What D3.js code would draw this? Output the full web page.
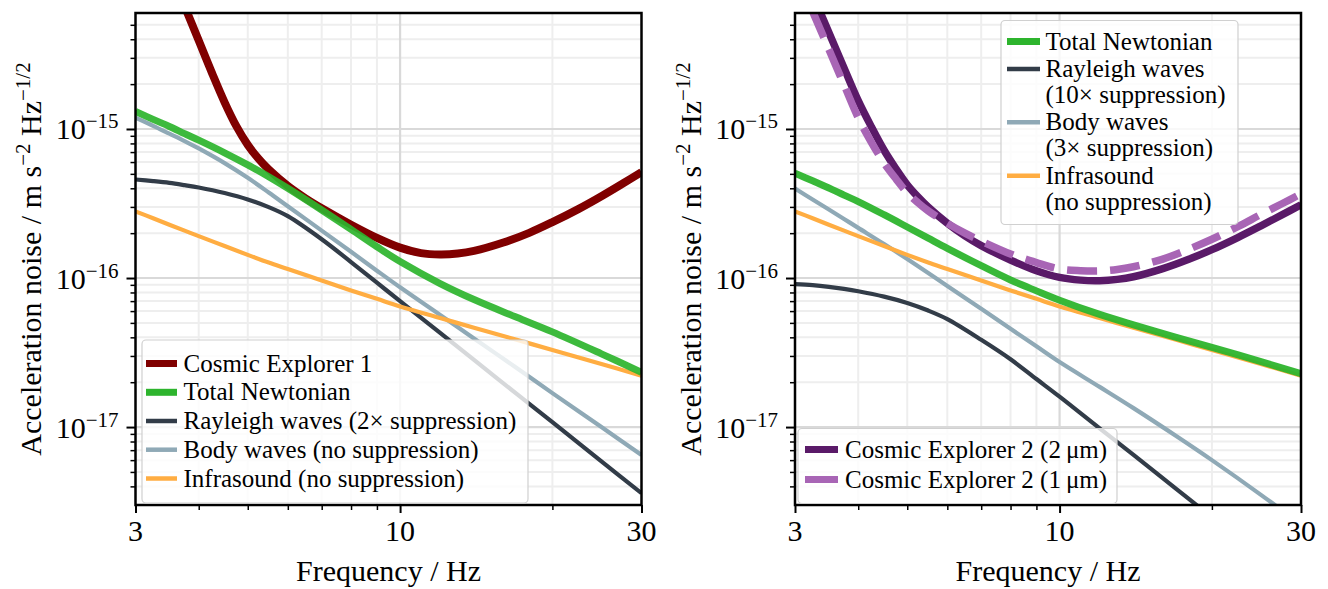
<!DOCTYPE html>
<html><head><meta charset="utf-8">
<script src="https://cdn.jsdelivr.net/npm/d3@7"></script>
<style>
body{margin:0;background:#fff}
svg{display:block}
</style>
</head><body>
<svg id="c" width="1328" height="589"></svg>
<script>
// ---------- data ----------
const freq = [3, 3.25, 3.5, 3.75, 4, 4.5, 5, 5.5, 6, 7, 8, 9, 10, 12, 14, 17, 20, 25, 30];
const freqCE = [3, 3.5, 3.75, 4, 4.25, 4.5, 4.75, 5, 5.25, 5.5, 6, 6.5, 7, 8, 9, 10, 11, 12, 13, 14, 16, 18, 20, 22.5, 25, 27.5, 30];

// left panel
const ce1 = [4.26e-14, 1.19e-14, 6.69e-15, 3.92e-15, 2.37e-15, 1.51e-15, 1.04e-15, 7.82e-16, 6.32e-16, 5.35e-16, 4.15e-16, 3.43e-16, 2.94e-16, 2.28e-16, 1.86e-16, 1.6e-16, 1.47e-16, 1.44e-16, 1.46e-16, 1.52e-16, 1.73e-16, 2.01e-16, 2.37e-16, 2.9e-16, 3.54e-16, 4.29e-16, 5.14e-16];
const totalLeft = [1.31e-15, 1.16e-15, 1.04e-15, 9.31e-16, 8.41e-16, 6.92e-16, 5.74e-16, 4.78e-16, 4.0e-16, 2.86e-16, 2.12e-16, 1.62e-16, 1.29e-16, 9.18e-17, 7.17e-17, 5.45e-17, 4.35e-17, 3.1e-17, 2.33e-17];
const rayleighLeft = [4.58e-16, 4.47e-16, 4.35e-16, 4.2e-16, 4.05e-16, 3.72e-16, 3.37e-16, 2.99e-16, 2.6e-16, 1.82e-16, 1.28e-16, 9.3e-17, 7.0e-17, 4.28e-17, 2.82e-17, 1.67e-17, 1.08e-17, 5.89e-18, 3.6e-18];
const bodyLeft = [1.19e-15, 1.05e-15, 9.3e-16, 8.3e-16, 7.4e-16, 5.9e-16, 4.7e-16, 3.75e-16, 3.03e-16, 2.08e-16, 1.5e-16, 1.12e-16, 8.66e-17, 5.65e-17, 3.93e-17, 2.49e-17, 1.69e-17, 1.0e-17, 6.5e-18];
const infrasound = [2.8e-16, 2.52e-16, 2.28e-16, 2.08e-16, 1.91e-16, 1.64e-16, 1.43e-16, 1.27e-16, 1.15e-16, 9.63e-17, 8.26e-17, 7.25e-17, 6.45e-17, 5.39e-17, 4.64e-17, 3.85e-17, 3.29e-17, 2.65e-17, 2.21e-17];

// right panel
const totalRight = [5.05e-16, 4.49e-16, 4.02e-16, 3.6e-16, 3.26e-16, 2.66e-16, 2.2e-16, 1.85e-16, 1.58e-16, 1.21e-16, 9.7e-17, 8.2e-17, 7.1e-17, 5.7e-17, 4.85e-17, 4.0e-17, 3.42e-17, 2.75e-17, 2.28e-17];
const rayleighRight = [9.1e-17, 8.95e-17, 8.72e-17, 8.45e-17, 8.15e-17, 7.5e-17, 6.8e-17, 6.05e-17, 5.3e-17, 3.85e-17, 2.85e-17, 2.1e-17, 1.6e-17, 9.8e-18, 6.5e-18, 3.85e-18, 2.48e-18, 1.36e-18, 8.3e-19];
const bodyRight = [3.98e-16, 3.36e-16, 2.88e-16, 2.49e-16, 2.17e-16, 1.69e-16, 1.34e-16, 1.08e-16, 8.85e-17, 6.21e-17, 4.56e-17, 3.48e-17, 2.73e-17, 1.86e-17, 1.34e-17, 8.71e-18, 6.0e-18, 3.51e-18, 2.22e-18];
const ce2_2um = [1.51e-14, 4.44e-15, 2.57e-15, 1.55e-15, 1.03e-15, 7.2e-16, 5.4e-16, 4.22e-16, 3.5e-16, 2.99e-16, 2.33e-16, 1.92e-16, 1.65e-16, 1.32e-16, 1.12e-16, 1.01e-16, 9.68e-17, 9.6e-17, 9.79e-17, 1.02e-16, 1.156e-16, 1.336e-16, 1.55e-16, 1.87e-16, 2.24e-16, 2.65e-16, 3.1e-16];
const ce2_1um = [1.16e-14, 3.42e-15, 1.98e-15, 1.19e-15, 8.11e-16, 5.9e-16, 4.62e-16, 3.73e-16, 3.2e-16, 2.82e-16, 2.33e-16, 2.0e-16, 1.77e-16, 1.45e-16, 1.27e-16, 1.15e-16, 1.12e-16, 1.116e-16, 1.14e-16, 1.19e-16, 1.34e-16, 1.56e-16, 1.82e-16, 2.21e-16, 2.67e-16, 3.15e-16, 3.67e-16];

// axes
const xDomain = [3, 30];
const yDomain = [3e-18, 6e-15];
const xMajorTicks = [3, 10, 30];
const xTickLabels = ["3", "10", "30"];
const xMinorTicks = [4, 5, 6, 7, 8, 9, 20];
const yMajorTicks = [1e-15, 1e-16, 1e-17];
const yTickExponents = ["\u221215", "\u221216", "\u221217"];
const yMinorTicks = [4e-18,5e-18,6e-18,7e-18,8e-18,9e-18,
  2e-17,3e-17,4e-17,5e-17,6e-17,7e-17,8e-17,9e-17,
  2e-16,3e-16,4e-16,5e-16,6e-16,7e-16,8e-16,9e-16,
  2e-15,3e-15,4e-15,5e-15];

// ---------- styles ----------
const COL = {
  ce1: "#800000", total: "#2db42d", rayleigh: "#323c48", body: "#8fa9b6",
  infra: "#ffad42", ce2a: "#5a1a68", ce2b: "#a865b5"
};

// pick the first installed serif face
function pickFont(cands) {
  const ctx = document.createElement("canvas").getContext("2d");
  const s = "Acceleration noise / Hz 0123456789 mwil";
  const w = f => { ctx.font = "40px " + f; return ctx.measureText(s).width; };
  const bm = w("monospace"), bs = w("sans-serif");
  for (const c of cands) {
    if (w(`'${c}', monospace`) !== bm || w(`'${c}', sans-serif`) !== bs) return `'${c}', serif`;
  }
  return "serif";
}
const FONT = pickFont(["Liberation Serif", "Times New Roman", "Tinos", "Nimbus Roman", "TeX Gyre Termes",
  "FreeSerif", "DejaVu Serif", "Noto Serif", "STIX Two Text", "Georgia"]);

const svg = d3.select("#c");
const W = 506, TOP = 13, BOT = 505;
const FS_AX = 30, FS_LEG = 25;

function txt(sel) { return sel.append("text").attr("font-family", FONT).attr("fill", "#000"); }

function panel(x0, id, series) {
  const x = d3.scaleLog().domain(xDomain).range([x0, x0 + W]);
  const y = d3.scaleLog().domain(yDomain).range([BOT, TOP]);
  const g = svg.append("g");

  g.append("clipPath").attr("id", id).append("rect")
    .attr("x", x0).attr("y", TOP).attr("width", W).attr("height", BOT - TOP);

  // grid
  const grid = g.append("g");
  xMinorTicks.forEach(v => grid.append("line").attr("x1", x(v)).attr("x2", x(v)).attr("y1", TOP).attr("y2", BOT)
    .attr("stroke", "#eeeeee").attr("stroke-width", 2));
  yMinorTicks.forEach(v => grid.append("line").attr("y1", y(v)).attr("y2", y(v)).attr("x1", x0).attr("x2", x0 + W)
    .attr("stroke", "#eeeeee").attr("stroke-width", 2));
  [10].forEach(v => grid.append("line").attr("x1", x(v)).attr("x2", x(v)).attr("y1", TOP).attr("y2", BOT)
    .attr("stroke", "#d9d9d9").attr("stroke-width", 2.2));
  yMajorTicks.forEach(v => grid.append("line").attr("y1", y(v)).attr("y2", y(v)).attr("x1", x0).attr("x2", x0 + W)
    .attr("stroke", "#d9d9d9").attr("stroke-width", 2.2));

  // lines
  const lg = g.append("g").attr("clip-path", `url(#${id})`);
  series.forEach(s => {
    const fx = s.f || freq;
    const line = d3.line().x((d, i) => x(fx[i])).y(d => y(d)).curve(d3.curveCatmullRom.alpha(0.5));
    lg.append("path").attr("d", line(s.values)).attr("fill", "none")
      .attr("stroke", s.color).attr("stroke-width", s.width)
      .attr("stroke-opacity", s.opacity || 1)
      .attr("stroke-dasharray", s.dash || null);
  });

  // ticks via d3 axes
  const axL = g.append("g").attr("transform", `translate(${x0},0)`);
  const axLmaj = axL.append("g").call(d3.axisLeft(y).tickValues(yMajorTicks).tickSize(9).tickFormat(""));
  const axLmin = axL.append("g").call(d3.axisLeft(y).tickValues(yMinorTicks).tickSize(5).tickFormat(""));
  const axB = g.append("g").attr("transform", `translate(0,${BOT})`);
  const axBmaj = axB.append("g").call(d3.axisBottom(x).tickValues(xMajorTicks).tickSize(8).tickFormat(""));
  const axBmin = axB.append("g").call(d3.axisBottom(x).tickValues(xMinorTicks).tickSize(5).tickFormat(""));
  g.selectAll(".domain").remove();
  [axLmaj, axBmaj].forEach(a => a.selectAll(".tick line").attr("stroke", "#000").attr("stroke-width", 2));
  [axLmin, axBmin].forEach(a => a.selectAll(".tick line").attr("stroke", "#000").attr("stroke-width", 1.5));

  // spines
  g.append("rect").attr("x", x0).attr("y", TOP).attr("width", W).attr("height", BOT - TOP)
    .attr("fill", "none").attr("stroke", "#000").attr("stroke-width", 2.5);

  // tick labels
  yMajorTicks.forEach((v, i) => {
    const t = txt(g).attr("x", x0 - 17).attr("y", y(v) + 10.5)
      .attr("text-anchor", "end").attr("font-size", FS_AX);
    t.append("tspan").text("10");
    t.append("tspan").attr("dy", -11).attr("font-size", 21).text(yTickExponents[i]);
  });
  xMajorTicks.forEach((v, i) => {
    txt(g).attr("x", x(v)).attr("y", 541).attr("text-anchor", "middle")
      .attr("font-size", FS_AX).text(xTickLabels[i]);
  });

  // axis labels
  txt(g).attr("x", x0 + W / 2).attr("y", 581).attr("text-anchor", "middle")
    .attr("font-size", FS_AX).text("Frequency / Hz");
  const yl = txt(g).attr("transform", `translate(${x0 - 94.5},${(TOP + BOT) / 2}) rotate(-90)`)
    .attr("text-anchor", "middle").attr("font-size", FS_AX);
  yl.append("tspan").text("Acceleration noise / m s");
  yl.append("tspan").attr("dy", -11).attr("font-size", 21).text("\u22122");
  yl.append("tspan").attr("dy", 11).text(" Hz");
  yl.append("tspan").attr("dy", -11).attr("font-size", 21).text("\u22121/2");
  return g;
}

function legend(g, box, items) {
  const lg = g.append("g");
  lg.append("rect").attr("x", box.x).attr("y", box.y).attr("width", box.w).attr("height", box.h)
    .attr("rx", 4).attr("fill", "#fff").attr("fill-opacity", 0.8)
    .attr("stroke", "#d0d0d0").attr("stroke-width", 1.2);
  items.forEach(it => {
    lg.append("line").attr("x1", box.hx1).attr("x2", box.hx2).attr("y1", it.hy).attr("y2", it.hy)
      .attr("stroke", it.color).attr("stroke-width", it.width);
    it.lines.forEach((s, k) => {
      txt(lg).attr("x", box.tx).attr("y", it.hy + 8 + k * 26)
        .attr("font-size", FS_LEG).text(s);
    });
  });
}

// ---------- left panel ----------
const gl = panel(135.5, "clipL", [
  {values: ce1, f: freqCE, color: COL.ce1, width: 8},
  {values: rayleighLeft, color: COL.rayleigh, width: 4.2},
  {values: bodyLeft, color: COL.body, width: 4.2},
  {values: infrasound, color: COL.infra, width: 4.2},
  {values: totalLeft, color: COL.total, width: 7, opacity: 0.92}
]);
legend(gl, {x: 142, y: 340, w: 386, h: 163, hx1: 146, hx2: 177, tx: 183.5}, [
  {lines: ["Cosmic Explorer 1"], color: COL.ce1, width: 7, hy: 363.5},
  {lines: ["Total Newtonian"], color: COL.total, width: 7, hy: 392.3},
  {lines: ["Rayleigh waves (2\u00d7 suppression)"], color: COL.rayleigh, width: 4.5, hy: 421},
  {lines: ["Body waves (no suppression)"], color: COL.body, width: 4.5, hy: 449.7},
  {lines: ["Infrasound (no suppression)"], color: COL.infra, width: 4.5, hy: 478.5}
]);

// ---------- right panel ----------
const gr = panel(795, "clipR", [
  {values: rayleighRight, color: COL.rayleigh, width: 4.2},
  {values: bodyRight, color: COL.body, width: 4.2},
  {values: infrasound, color: COL.infra, width: 4.2},
  {values: totalRight, color: COL.total, width: 7, opacity: 0.95},
  {values: ce2_2um, f: freqCE, color: COL.ce2a, width: 7.5},
  {values: ce2_1um, f: freqCE, color: COL.ce2b, width: 7.5, dash: "30 13"}
]);
legend(gr, {x: 1001, y: 20.5, w: 237, h: 204, hx1: 1007, hx2: 1040, tx: 1045.5}, [
  {lines: ["Total Newtonian"], color: COL.total, width: 7, hy: 41.5},
  {lines: ["Rayleigh waves", "(10\u00d7 suppression)"], color: COL.rayleigh, width: 4.5, hy: 69},
  {lines: ["Body waves", "(3\u00d7 suppression)"], color: COL.body, width: 4.5, hy: 122.3},
  {lines: ["Infrasound", "(no suppression)"], color: COL.infra, width: 4.5, hy: 175.8}
]);
legend(gr, {x: 798, y: 428.5, w: 319, h: 75, hx1: 805, hx2: 838, tx: 845}, [
  {lines: ["Cosmic Explorer 2 (2\u2009\u03bcm)"], color: COL.ce2a, width: 7, hy: 449.5},
  {lines: ["Cosmic Explorer 2 (1\u2009\u03bcm)"], color: COL.ce2b, width: 7, hy: 479.5}
]);
</script>
</body></html>
